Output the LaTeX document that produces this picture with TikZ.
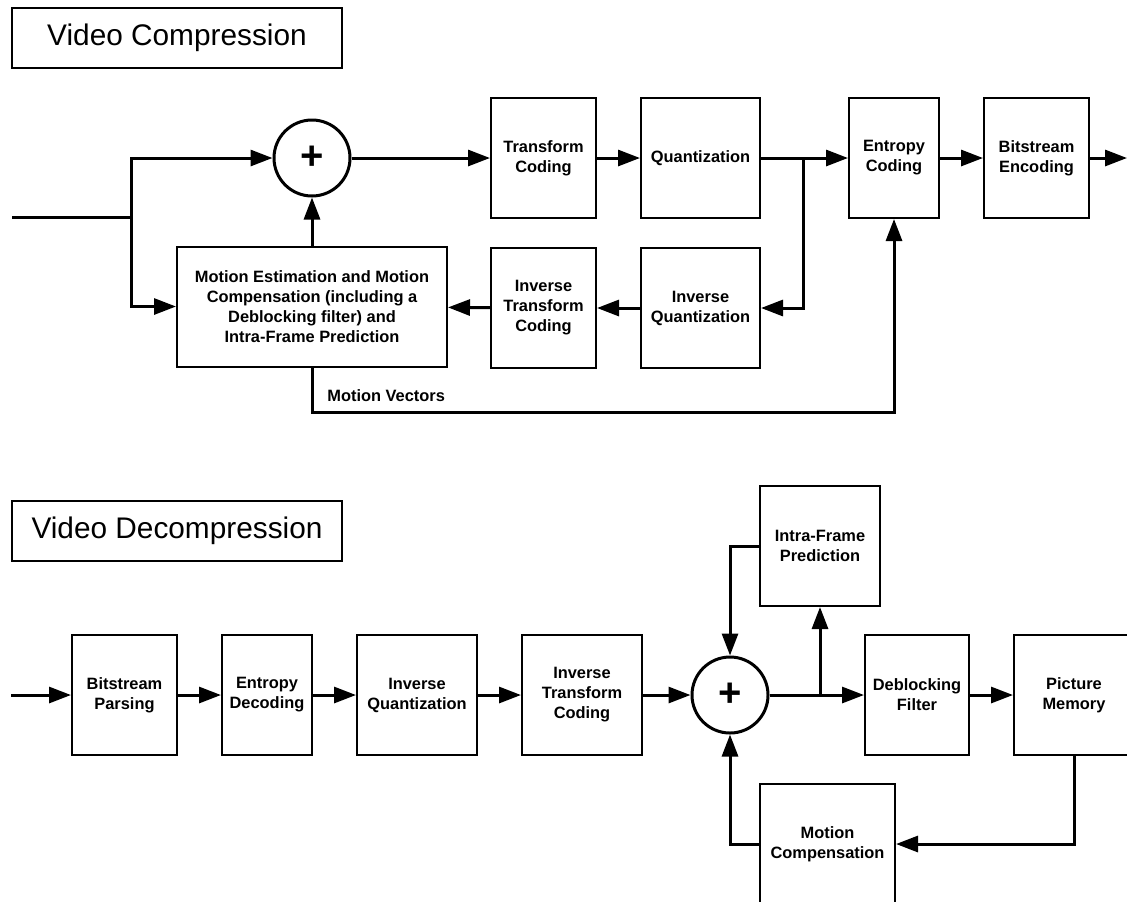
\documentclass[tikz,border=0pt]{standalone}
\usepackage{fontspec}
\setmainfont{Liberation Sans}
\usetikzlibrary{arrows.meta,positioning,calc}
\tikzset{
    block/.style={
        rectangle,
        draw=black,
        line width=1pt,
        minimum height=60pt,
        align=center,
        font=\fontsize{8.2}{10}\selectfont\bfseries,
    },
    sum/.style={
        circle,
        draw=black,
        line width=1.5pt,
        minimum size=38pt,
        inner sep=0pt,
        font=\fontsize{20}{20}\selectfont\bfseries,
    },
    title/.style={
        rectangle,
        draw=black,
        line width=0.7pt,
        minimum width=165pt,
        minimum height=30pt,
        font=\fontsize{14.9}{18}\selectfont,
    },
    lbl/.style={
        font=\fontsize{8.2}{10}\selectfont\bfseries,
        inner sep=0pt,
    },
    wire/.style={
        line width=1.5pt,
        ->,
    },
}

\begin{document}
\begin{tikzpicture}[x=0.5pt,y=-0.5pt,node distance=14pt and 21.5pt,>={Triangle[length=11pt,width=8pt]}]
    \useasboundingbox (0,0) rectangle (1127,901);
    \clip (0,0) rectangle (1127,901);

    \node [title] (enc-title) at (177,38) {Video Compression};
    \node [title] (dec-title) at (177,531) {Video Decompression};

    \node [sum] (sum1) at (312,158) {+};
    \node [block, minimum width=52.5pt] (tc) at (543.5,158) {Transform\\Coding};
    \node [block, minimum width=59.5pt] (q) [right=of tc] {Quantization};
    \node [block, minimum width=45pt] (ec) at (894,158) {Entropy\\Coding};
    \node [block, minimum width=52.5pt] (be) [right=of ec] {Bitstream\\Encoding};
    \node [block, minimum width=52.5pt] (itc) [below=of tc] {Inverse\\Transform\\Coding};
    \node [block, minimum width=59.5pt] (iq) [below=of q] {Inverse\\Quantization};
    \node [block, minimum width=135pt] (me) at (312,306.5) {Motion Estimation and Motion\\Compensation (including a\\Deblocking filter) and\\Intra-Frame Prediction};
    \node [lbl, anchor=base west] (mv-lbl) at (327,401) {Motion Vectors};

    \coordinate (in1) at (12,217);
    \coordinate (split1) at (131,217);
    \coordinate (tap1) at (803,158);
    \coordinate (out1) at (1127,158);
    \coordinate (mv-turn) at (894,412);

    \draw [line width=1.5pt] (in1) -- (split1);
    \draw [wire] (split1) |- (sum1);
    \draw [wire] (split1) |- (me);
    \draw [wire] (me) -- (sum1);
    \draw [wire] (sum1) -- (tc);
    \draw [wire] (tc) -- (q);
    \draw [wire] (q) -- (ec);
    \draw [wire] (ec) -- (be);
    \draw [wire] (be) -- (out1);
    \draw [wire] (tap1) |- (iq);
    \draw [wire] (iq) -- (itc);
    \draw [wire] (itc) -- (me);
    \draw [wire] (me) |- (mv-turn) -- (ec);

    \node [block, minimum width=52.5pt] (bp) at (124.5,695) {Bitstream\\Parsing};
    \node [block, minimum width=45pt] (ed) [right=of bp] {Entropy\\Decoding};
    \node [block, minimum width=60pt] (iq2) [right=of ed] {Inverse\\Quantization};
    \node [block, minimum width=60pt] (itc2) [right=of iq2] {Inverse\\Transform\\Coding};
    \node [sum] (sum2) at (730,695) {+};
    \node [block, minimum width=60pt] (ifp) at (820,546) {Intra-Frame\\Prediction};
    \node [block, minimum width=52pt] (df) at (917,695) {Deblocking\\Filter};
    \node [block, minimum width=60pt] (pm) [right=of df] {Picture\\Memory};
    \node [block, minimum width=67.5pt] (mc) at (827.5,844) {Motion\\Compensation};

    \coordinate (in2) at (11,695);
    \coordinate (tap2) at (820,695);

    \draw [wire] (in2) -- (bp);
    \draw [wire] (bp) -- (ed);
    \draw [wire] (ed) -- (iq2);
    \draw [wire] (iq2) -- (itc2);
    \draw [wire] (itc2) -- (sum2);
    \draw [wire] (sum2) -- (df);
    \draw [wire] (tap2) -- (ifp);
    \draw [wire] (ifp) -| (sum2);
    \draw [wire] (df) -- (pm);
    \draw [wire] (pm) |- (mc);
    \draw [wire] (mc) -| (sum2);
\end{tikzpicture}
\end{document}
